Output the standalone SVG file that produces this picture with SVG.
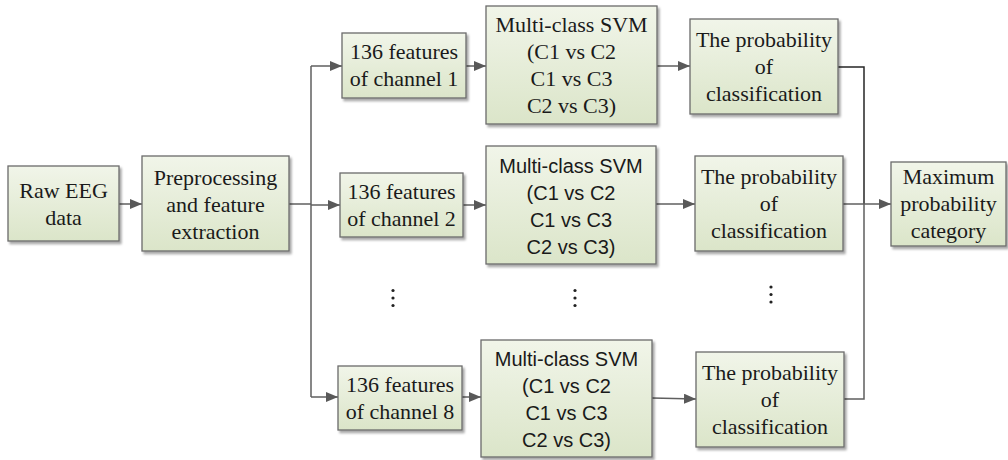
<svg xmlns="http://www.w3.org/2000/svg" width="1008" height="460" viewBox="0 0 1008 460">
<defs>
<linearGradient id="g" x1="0" y1="0" x2="0" y2="1">
<stop offset="0" stop-color="#f1f5e9"/>
<stop offset="1" stop-color="#dbe5c9"/>
</linearGradient>
<filter id="sh" x="-10%" y="-10%" width="130%" height="130%">
<feDropShadow dx="2" dy="2.5" stdDeviation="1.2" flood-color="#000" flood-opacity="0.35"/>
</filter>
<marker id="ah" markerUnits="userSpaceOnUse" markerWidth="12" markerHeight="10" viewBox="0 0 12 10" refX="12" refY="5" orient="auto">
<path d="M0,0 L12,5 L0,10 Z" fill="#595959"/>
</marker>
</defs>
<style>
.box{fill:url(#g);stroke:#6b6b6b;stroke-width:1.3;filter:url(#sh)}
.t{font-family:"Liberation Serif","Times New Roman",serif;font-size:22px;fill:#1a1a1a;text-anchor:middle}
.s{font-family:"Liberation Sans",Arial,sans-serif;font-size:20px;fill:#1a1a1a;text-anchor:middle}
.c{fill:none;stroke:#5f5f5f;stroke-width:1.5}
.k{fill:none;stroke:#262626;stroke-width:1.5}
.dot{fill:#222}
</style>
<g id="connectors">
<line class="c" x1="119" y1="204" x2="142" y2="204" marker-end="url(#ah)"/>
<line class="c" x1="289" y1="204" x2="311" y2="204"/>
<line class="c" x1="311" y1="66" x2="311" y2="397"/>
<line class="c" x1="311" y1="66" x2="342" y2="66" marker-end="url(#ah)"/>
<line class="c" x1="311" y1="205" x2="340" y2="205" marker-end="url(#ah)"/>
<line class="c" x1="311" y1="397" x2="338" y2="397" marker-end="url(#ah)"/>
<line class="c" x1="466" y1="66" x2="486" y2="66" marker-end="url(#ah)"/>
<line class="c" x1="463" y1="205" x2="486" y2="205" marker-end="url(#ah)"/>
<line class="c" x1="462" y1="397" x2="481" y2="397" marker-end="url(#ah)"/>
<line class="c" x1="657" y1="66" x2="690" y2="66" marker-end="url(#ah)"/>
<line class="c" x1="656" y1="204" x2="695" y2="204" marker-end="url(#ah)"/>
<line class="c" x1="652" y1="398" x2="696" y2="399" marker-end="url(#ah)"/>
<path class="k" d="M838,67 H864 V204"/>
<path class="c" d="M844,399 H864 V204"/>
<line class="c" x1="843" y1="204" x2="891" y2="204" marker-end="url(#ah)"/>
</g>
<g id="raw">
<rect class="box" x="8" y="166" width="111" height="75"/>
<text class="t" x="63.5" y="198">Raw EEG</text>
<text class="t" x="63.5" y="225">data</text>
</g>
<g id="pre">
<rect class="box" x="142" y="156" width="147" height="95"/>
<text class="t" x="215.5" y="184.8">Preprocessing</text>
<text class="t" x="215.5" y="211.8">and feature</text>
<text class="t" x="215.5" y="238.8">extraction</text>
</g>
<g id="ch1">
<rect class="box" x="342" y="33" width="124" height="65"/>
<text class="t" x="404" y="59.3">136 features</text>
<text class="t" x="404" y="86.3">of channel 1</text>
</g>
<g id="ch2">
<rect class="box" x="340" y="173" width="123" height="64"/>
<text class="t" x="401.5" y="198.8">136 features</text>
<text class="t" x="401.5" y="225.8">of channel 2</text>
</g>
<g id="ch8">
<rect class="box" x="338" y="366" width="124" height="64"/>
<text class="t" x="400" y="391.8">136 features</text>
<text class="t" x="400" y="418.8">of channel 8</text>
</g>
<g id="svm1">
<rect class="box" x="486" y="6" width="171" height="118"/>
<text class="t" x="571.5" y="32">Multi-class SVM</text>
<text class="t" x="571.5" y="59">(C1 vs C2</text>
<text class="t" x="571.5" y="86">C1 vs C3</text>
<text class="t" x="571.5" y="113">C2 vs C3)</text>
</g>
<g id="svm2">
<rect class="box" x="486" y="146" width="170" height="118"/>
<text class="s" x="571" y="172.5">Multi-class SVM</text>
<text class="s" x="571" y="199.5">(C1 vs C2</text>
<text class="s" x="571" y="226.5">C1 vs C3</text>
<text class="s" x="571" y="253.5">C2 vs C3)</text>
</g>
<g id="svm8">
<rect class="box" x="481" y="340" width="171" height="117"/>
<text class="s" x="566.5" y="366">Multi-class SVM</text>
<text class="s" x="566.5" y="393">(C1 vs C2</text>
<text class="s" x="566.5" y="420">C1 vs C3</text>
<text class="s" x="566.5" y="447">C2 vs C3)</text>
</g>
<g id="prob1">
<rect class="box" x="690" y="19" width="148" height="95"/>
<text class="t" x="764" y="46.8">The probability</text>
<text class="t" x="764" y="73.8">of</text>
<text class="t" x="764" y="100.8">classification</text>
</g>
<g id="prob2">
<rect class="box" x="695" y="156" width="148" height="95"/>
<text class="t" x="769" y="184">The probability</text>
<text class="t" x="769" y="211">of</text>
<text class="t" x="769" y="238">classification</text>
</g>
<g id="prob8">
<rect class="box" x="696" y="352" width="148" height="95"/>
<text class="t" x="770" y="380">The probability</text>
<text class="t" x="770" y="407">of</text>
<text class="t" x="770" y="434">classification</text>
</g>
<g id="max">
<rect class="box" x="891" y="162" width="115" height="84"/>
<text class="t" x="948.5" y="184.3">Maximum</text>
<text class="t" x="948.5" y="211.3">probability</text>
<text class="t" x="948.5" y="238.3">category</text>
</g>
<g id="dots">
<circle class="dot" cx="393" cy="290.5" r="1.6"/>
<circle class="dot" cx="393" cy="298" r="1.6"/>
<circle class="dot" cx="393" cy="305.5" r="1.6"/>
<circle class="dot" cx="575" cy="290.5" r="1.6"/>
<circle class="dot" cx="575" cy="298" r="1.6"/>
<circle class="dot" cx="575" cy="305.5" r="1.6"/>
<circle class="dot" cx="771" cy="287" r="1.6"/>
<circle class="dot" cx="771" cy="294.5" r="1.6"/>
<circle class="dot" cx="771" cy="302" r="1.6"/>
</g>
</svg>
